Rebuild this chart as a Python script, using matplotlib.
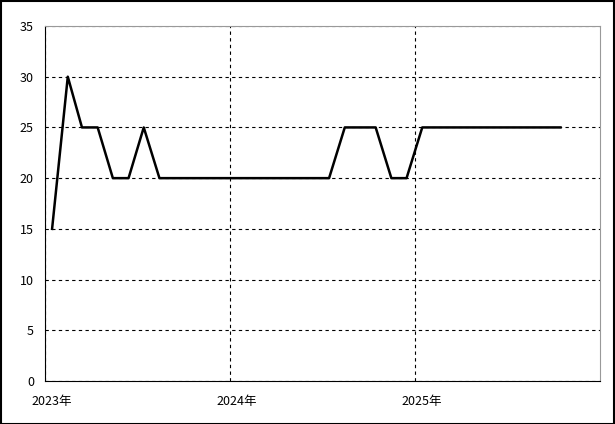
import pandas as pd
import matplotlib.pyplot as plt
import matplotlib.dates as mdates
import matplotlib.transforms as mtransforms

plt.rcParams['font.family'] = ['Noto Sans CJK JP', 'DejaVu Sans']

# Monthly values, Jan 2023 .. Oct 2025 (plotted mid-month)
months = pd.date_range('2023-01-01', periods=34, freq='MS') + pd.Timedelta(days=14)
values = [15, 30, 25, 25, 20, 20, 25, 20, 20, 20, 20, 20,
          20, 20, 20, 20, 20, 20, 20, 25, 25, 25, 20, 20,
          25, 25, 25, 25, 25, 25, 25, 25, 25, 25]
year_ticks = pd.to_datetime(['2023-01-01', '2024-01-01', '2025-01-01'])
year_labels = ['2023年', '2024年', '2025年']

fig = plt.figure(figsize=(6.15, 4.24), dpi=100)
ax = fig.add_axes([45 / 615, 43 / 424, 555 / 615, 355 / 424])

ax.plot(months, values, color='black', linewidth=1.8)

ax.set_xlim(pd.Timestamp('2023-01-01'), pd.Timestamp('2026-01-01'))
ax.set_ylim(0, 35)
ax.set_yticks(range(0, 36, 5))
ax.set_xticks(year_ticks)
ax.set_xticklabels([])
ax.tick_params(length=0, labelsize=9, pad=8)

# year labels: number centered on the tick, 年 hanging off the right
offset = mtransforms.ScaledTranslation(7 / 100, 0, fig.dpi_scale_trans)
for d, lab in zip(year_ticks, year_labels):
    ax.text(mdates.date2num(d), -0.04, lab, transform=ax.get_xaxis_transform() + offset,
            ha='center', va='top', fontsize=9)

ax.grid(True, color='black', linestyle=(0, (3, 3)), linewidth=0.8)
for side in ['top', 'right']:
    ax.spines[side].set_color('#999999')
for side in ['left', 'bottom']:
    ax.spines[side].set_color('black')

# outer frame around the whole picture
fig.patches.append(plt.Rectangle((0.001, 0.001), 0.997, 0.996, transform=fig.transFigure,
                                 fill=False, edgecolor='black', linewidth=1.5))

plt.savefig('out.png', dpi=100)
